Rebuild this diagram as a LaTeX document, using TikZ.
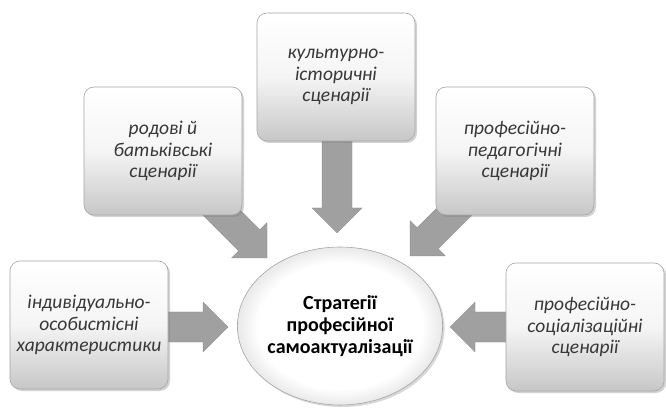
\documentclass[tikz,border=0pt]{standalone}
\usepackage{fontspec}
\setmainfont{Carlito}
\usetikzlibrary{shapes.geometric,shadows}
\definecolor{arrowgray}{RGB}{160,160,160}
\definecolor{boxtext}{RGB}{55,55,55}
\pgfdeclareradialshading{softball}{\pgfpoint{0bp}{0bp}}{%
  color(0bp)=(white); color(20bp)=(white); color(28bp)=(black!14); color(35.4bp)=(black!36); color(50bp)=(black!36)}
\tikzset{
  blockarrow/.style={fill=arrowgray, draw=arrowgray!85!black, line width=0.3pt},
  scenbox/.style={rectangle, rounded corners=10pt, minimum width=158pt, minimum height=128pt,
    inner sep=0pt, top color=white, bottom color=black!22, middle color=black!4,
    draw=black!35, line width=0.6pt, align=center, text=boxtext,
    font=\itshape\fontsize{19.5}{21.5}\selectfont,
    drop shadow={opacity=0.35, shadow xshift=2pt, shadow yshift=-2pt}},
  corecircle/.style={ellipse, minimum width=198pt, minimum height=158pt, inner sep=0pt,
    shade, shading=softball, draw=black!35, line width=0.6pt,
    align=center, font=\bfseries\fontsize{20}{22}\selectfont,
    drop shadow={opacity=0.3, shadow xshift=2pt, shadow yshift=-2pt}}
}
\newcommand{\barrow}[3]{% tip, angle, tail length
  \begin{scope}[shift={(#1)}, rotate=#2]
    \fill[blockarrow] (0,0) -- (-25,25) -- (-25,15) -- (-#3,15) -- (-#3,-15) -- (-25,-15) -- (-25,-25) -- cycle;
  \end{scope}}
\begin{document}
\begin{tikzpicture}[x=1pt,y=-1pt]
\fill[white] (0,0) rectangle (666,411);
\useasboundingbox (0,0) rectangle (666,411);
% arrow tips
\coordinate (tTop) at (337,233);
\coordinate (tUL) at (267,258);
\coordinate (tUR) at (410,256);
\coordinate (tBL) at (228,327);
\coordinate (tBR) at (450,327);
% block arrows (drawn first, tails under the boxes)
\barrow{tTop}{-90}{100}
\barrow{tUL}{-45}{78}
\barrow{tUR}{-135}{78}
\barrow{tBL}{0}{70}
\barrow{tBR}{180}{70}
% boxes
\node[scenbox] (top) at (336,77) {культурно-\\історичні\\сценарії};
\node[scenbox] (ul) at (163,151) {родові й\\батьківські\\сценарії};
\node[scenbox] (ur) at (515,151) {професійно-\\педагогічні\\сценарії};
\node[scenbox] (bl) at (89,325) {індивідуально-\\особистісні\\характеристики};
\node[scenbox] (br) at (585,327) {професійно-\\соціалізаційні\\сценарії};
% centre
\node[corecircle] (core) at (340,326) {Стратегії\\професійної\\самоактуалізації};
\end{tikzpicture}
\end{document}
